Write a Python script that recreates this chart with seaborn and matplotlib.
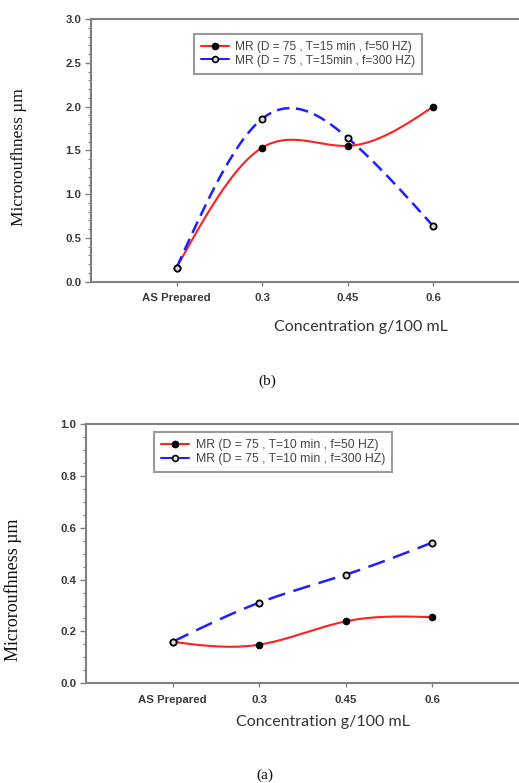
import numpy as np
import pandas as pd
import matplotlib
matplotlib.use("Agg")
import matplotlib.pyplot as plt
from matplotlib.lines import Line2D
from matplotlib.ticker import MultipleLocator
import seaborn as sns

# ---------------- data ----------------
categories = ["AS Prepared", "0.3", "0.45", "0.6"]

# panel (b): T = 15 min
b_f50 = [0.16, 1.53, 1.55, 2.00]
b_f300 = [0.16, 1.86, 1.64, 0.63]
b_labels = ["MR (D = 75 , T=15 min , f=50 HZ)", "MR (D = 75 , T=15min , f=300 HZ)"]

# panel (a): T = 10 min
a_f50 = [0.16, 0.149, 0.239, 0.255]
a_f300 = [0.16, 0.311, 0.419, 0.543]
a_labels = ["MR (D = 75 , T=10 min , f=50 HZ)", "MR (D = 75 , T=10 min , f=300 HZ)"]

x_label = "Concentration g/100 mL"
y_label = "Microroufhness µm"

sns.set_style("white")
plt.rcParams["font.family"] = ["Liberation Sans", "DejaVu Sans"]

RED = "#ff1f1f"
BLUE = "#1f1fff"
GRAY = "#808080"
TXT = "#3a3a3a"


def natural_spline(y, n=200):
    """Smooth natural cubic spline through equally spaced category points (display only)."""
    y = np.asarray(y, float)
    x = np.arange(len(y), dtype=float)
    k = len(y)
    h = np.diff(x)
    A = np.zeros((k, k))
    r = np.zeros(k)
    A[0, 0] = A[-1, -1] = 1.0
    for i in range(1, k - 1):
        A[i, i - 1] = h[i - 1]
        A[i, i] = 2 * (h[i - 1] + h[i])
        A[i, i + 1] = h[i]
        r[i] = 6 * ((y[i + 1] - y[i]) / h[i] - (y[i] - y[i - 1]) / h[i - 1])
    M = np.linalg.solve(A, r)
    xs = np.linspace(x[0], x[-1], n)
    ys = np.empty_like(xs)
    for j, t in enumerate(xs):
        i = min(int(np.floor(t)), k - 2)
        a, b = x[i], x[i + 1]
        hi = b - a
        ys[j] = (M[i] * (b - t) ** 3 / (6 * hi) + M[i + 1] * (t - a) ** 3 / (6 * hi)
                 + (y[i] / hi - M[i] * hi / 6) * (b - t)
                 + (y[i + 1] / hi - M[i + 1] * hi / 6) * (t - a))
    return xs, ys


def panel(ax, s50, s300, labels, ymax, major, minor, legend_box, dash, legfs):
    pos = np.arange(len(categories))
    xs, ys = natural_spline(s50)
    sns.lineplot(x=xs, y=ys, ax=ax, color=RED, lw=1.5, sort=False, zorder=2)
    xs2, ys2 = natural_spline(s300)
    sns.lineplot(x=xs2, y=ys2, ax=ax, color=BLUE, lw=1.8, sort=False, zorder=2,
                 dashes=False, linestyle=(0, dash))
    df = pd.DataFrame({"pos": pos, "s50": s50, "s300": s300})
    sns.scatterplot(data=df, x="pos", y="s50", ax=ax, color="black", s=22,
                    edgecolor="black", linewidth=0.8, zorder=3)
    sns.scatterplot(data=df, x="pos", y="s300", ax=ax, color="#dddddd", s=20,
                    edgecolor="black", linewidth=1.3, zorder=4)

    ax.set_xlim(-1, 4)
    ax.set_ylim(0, ymax)
    ax.set_xticks(pos)
    ax.set_xticklabels(categories)
    ax.yaxis.set_major_locator(MultipleLocator(major))
    ax.yaxis.set_minor_locator(MultipleLocator(minor))
    ax.set_yticklabels([f"{v:.1f}" for v in ax.get_yticks()])
    ax.set_xlabel("")
    ax.set_ylabel("")
    for side in ["left", "bottom", "top"]:
        ax.spines[side].set_visible(True)
        ax.spines[side].set_color(GRAY)
        ax.spines[side].set_linewidth(1.5)
    ax.spines["right"].set_visible(False)
    ax.tick_params(axis="y", which="major", direction="out", length=4, width=1,
                   color=GRAY, left=True, pad=3, labelsize=8.2, labelcolor=TXT)
    ax.tick_params(axis="y", which="minor", direction="out", length=2, width=0.8,
                   color=GRAY, left=True)
    ax.tick_params(axis="x", which="major", direction="out", length=3, width=1,
                   color=GRAY, bottom=True, pad=5.5, labelsize=8.2, labelcolor=TXT)
    for t in ax.get_xticklabels() + ax.get_yticklabels():
        t.set_fontweight("bold")

    handles = [
        Line2D([], [], color=RED, lw=1.5, marker="o", markersize=4.5,
               markerfacecolor="black", markeredgecolor="black"),
        Line2D([], [], color=BLUE, lw=1.5, marker="o", markersize=4.2,
               markerfacecolor="#dddddd", markeredgecolor="black", markeredgewidth=1.2),
    ]
    leg = ax.legend(handles, labels, loc="upper left", bbox_to_anchor=legend_box,
                    bbox_transform=ax.figure.transFigure, fontsize=legfs,
                    frameon=True, fancybox=False, handlelength=2.3, handletextpad=0.5,
                    borderpad=0.6, labelspacing=0.12, borderaxespad=0)
    leg.get_frame().set_edgecolor(GRAY)
    leg.get_frame().set_linewidth(1.5)
    for t in leg.get_texts():
        t.set_color("#444444")


W, H = 519, 783
fig = plt.figure(figsize=(W / 100, H / 100), dpi=100)


def rect(l, t, r, b):
    return [l / W, 1 - b / H, (r - l) / W, (b - t) / H]


ax_b = fig.add_axes(rect(91, 19, 519, 281.5))
panel(ax_b, b_f50, b_f300, b_labels, 3.0, 0.5, 0.1, (194 / W, 1 - 34 / H),
      (5, 2.6), 8.6)

ax_a = fig.add_axes(rect(86, 424, 519, 683.3))
panel(ax_a, a_f50, a_f300, a_labels, 1.0, 0.2, 0.05, (154 / W, 1 - 432 / H),
      (7, 3.5), 8.8)

serif = ["Liberation Serif", "DejaVu Serif"]
sansx = ["Lato", "DejaVu Sans"]

fig.text(19 / W, 1 - 157 / H, y_label, rotation=90, ha="center", va="center",
         fontsize=12.5, family=serif, color="#111111")
fig.text(13 / W, 1 - 590 / H, y_label, rotation=90, ha="center", va="center",
         fontsize=13, family=serif, color="#111111")

fig.text(361 / W, 1 - 327 / H, x_label, ha="center", va="center",
         fontsize=11.5, family=sansx, color="#333333")
fig.text(323 / W, 1 - 722 / H, x_label, ha="center", va="center",
         fontsize=11.5, family=sansx, color="#333333")

fig.text(267 / W, 1 - 381 / H, "(b)", ha="center", va="center",
         fontsize=11, family=serif, color="#111111")
fig.text(265 / W, 1 - 775 / H, "(a)", ha="center", va="center",
         fontsize=11, family=serif, color="#111111")

fig.savefig("out.png", dpi=100, facecolor="white")
